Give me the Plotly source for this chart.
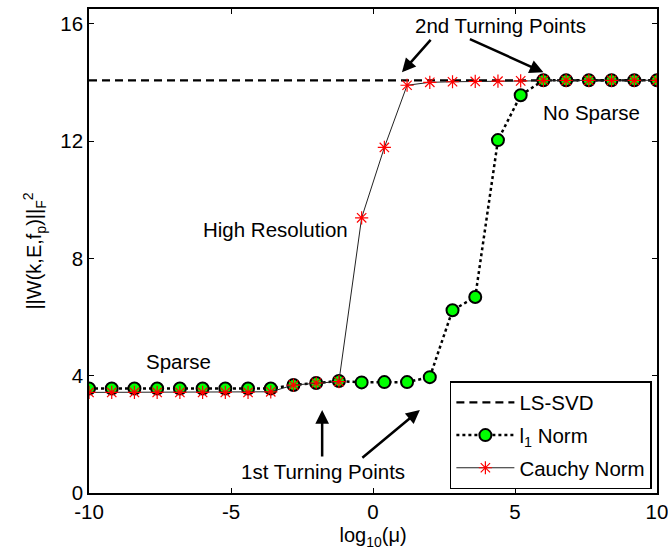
import plotly.graph_objects as go

# x positions: log10(mu)
mu_log = [-10, -9.2, -8.4, -7.6, -6.8, -6.0, -5.2, -4.4, -3.6, -2.8, -2.0, -1.2, -0.4,
          0.4, 1.2, 2.0, 2.8, 3.6, 4.4, 5.2, 6.0, 6.8, 7.6, 8.4, 9.2, 10]

l1_norm = [3.56, 3.56, 3.56, 3.56, 3.56, 3.56, 3.56, 3.56, 3.56, 3.68, 3.75, 3.82, 3.77,
           3.78, 3.78, 3.95, 6.23, 6.68, 12.03, 13.56, 14.07, 14.07, 14.07, 14.07, 14.07, 14.07]

cauchy_norm = [3.43, 3.43, 3.43, 3.43, 3.43, 3.43, 3.43, 3.43, 3.45, 3.68, 3.75, 3.8, 9.38,
               11.78, 13.9, 14.0, 14.02, 14.03, 14.04, 14.05, 14.07, 14.07, 14.07, 14.07, 14.07, 14.07]

lssvd_x = [-10, 10]
lssvd_y = [14.07, 14.07]

x_ticks = [-10, -5, 0, 5, 10]
x_ticktext = ["-10", "-5", "0", "5", "10"]
y_ticks = [0, 4, 8, 12, 16]

FONT = "Liberation Sans, Arial, sans-serif"

fig = go.Figure()
fig.add_trace(go.Scatter(
    x=lssvd_x, y=lssvd_y, mode="lines", name="LS-SVD", legendgroup="a",
    line=dict(color="black", width=2.2, dash="8px,5px")))
fig.add_trace(go.Scatter(
    x=mu_log, y=l1_norm, mode="lines+markers", name="l<sub>1</sub> Norm", legendgroup="b",
    line=dict(color="black", width=2.5, dash="dot"),
    marker=dict(symbol="circle", size=12, color="#00ff00", line=dict(color="black", width=2))))
fig.add_trace(go.Scatter(
    x=mu_log, y=cauchy_norm, mode="lines+markers", name="Cauchy Norm", legendgroup="c",
    line=dict(color="#222222", width=1),
    marker=dict(symbol="asterisk-open", size=11, color="red", line=dict(color="red", width=1.2))))

ann = []
def text(x, y, s):
    ann.append(dict(x=x, y=y, xref="x", yref="y", text=s, showarrow=False,
                    font=dict(family=FONT, size=20.5, color="black")))
def arrow(x, y, ax, ay):
    ann.append(dict(x=x, y=y, xref="x", yref="y", text="", showarrow=True,
                    ax=ax, ay=ay, arrowhead=2, arrowsize=1.1, arrowwidth=2.5, arrowcolor="black"))

text(4.5, 15.93, "2nd Turning Points")
text(7.69, 12.98, "No Sparse")
text(-3.45, 9.0, "High Resolution")
text(-6.85, 4.5, "Sparse")
text(-1.75, 0.72, "1st Turning Points")
arrow(1.02, 14.34, 30, -34)
arrow(6.0, 14.34, -75, -34)
arrow(-1.79, 2.83, 0, 48)
arrow(1.65, 2.83, -59, 49)

fig.update_layout(
    width=668, height=554,
    margin=dict(l=89, r=11, t=9, b=61, autoexpand=False),
    paper_bgcolor="white", plot_bgcolor="white",
    font=dict(family=FONT, size=20, color="black"),
    showlegend=True,
    legend=dict(x=0.991, y=0.008, xanchor="right", yanchor="bottom",
                bgcolor="white", bordercolor="black", borderwidth=1.5,
                font=dict(family=FONT, size=20.5), tracegroupgap=3,
                itemwidth=58),
    annotations=ann,
)
fig.update_xaxes(range=[-10, 10], tickvals=x_ticks, ticktext=x_ticktext, ticks="inside", ticklen=5,
                 tickcolor="black", showline=True, linecolor="black", linewidth=1.5,
                 mirror="allticks", showgrid=False, zeroline=False, automargin=False,
                 tickfont=dict(size=20.5), ticklabeloverflow="allow",
                 title=dict(text="log<sub>10</sub>(μ)", font=dict(size=20), standoff=6))
fig.update_yaxes(range=[0, 16.5], tickvals=y_ticks, ticks="inside", ticklen=5,
                 tickcolor="black", showline=True, linecolor="black", linewidth=1.5,
                 mirror="allticks", showgrid=False, zeroline=False, automargin=False,
                 tickfont=dict(size=20.5),
                 title=dict(text="||W(k,E,f<sub>p</sub>)||<sub>F</sub><sup>2</sup>", font=dict(size=20), standoff=13))

fig.write_html("out.html")
